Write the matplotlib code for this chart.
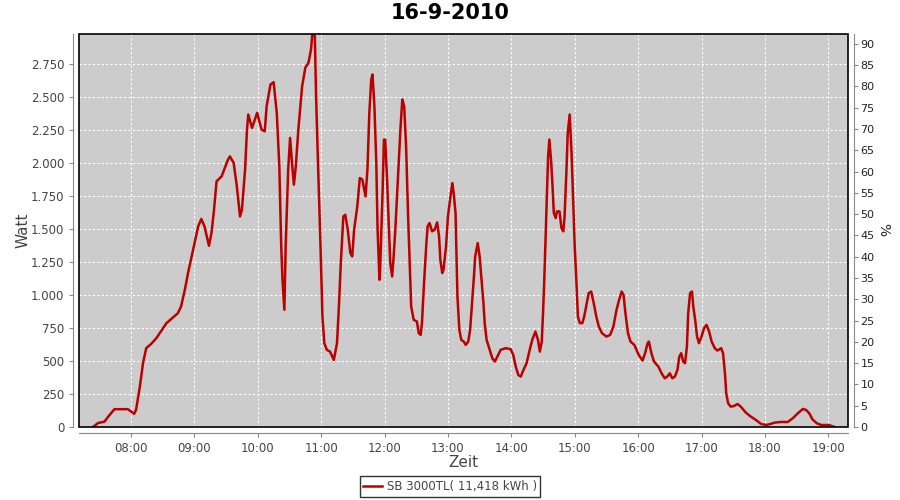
import matplotlib
matplotlib.use("Agg")
import matplotlib.pyplot as plt
from matplotlib.patches import Rectangle
from matplotlib.ticker import FuncFormatter

# Zeit (Stunden, dezimal) und Leistung (W)
zeit = [7.40, 7.48, 7.58, 7.66, 7.74, 7.85, 7.95, 8.05, 8.08, 8.14, 8.19, 8.24, 8.32, 8.40,
        8.56, 8.74, 8.79, 8.85, 8.90, 8.98, 9.06, 9.11, 9.16, 9.23, 9.27, 9.31, 9.35, 9.43,
        9.53, 9.56, 9.62, 9.67, 9.72, 9.75, 9.80, 9.83, 9.85, 9.91, 9.99, 10.06, 10.11, 10.14,
        10.20, 10.25, 10.30, 10.34, 10.37, 10.39, 10.42, 10.44, 10.48, 10.51, 10.54, 10.57,
        10.60, 10.64, 10.70, 10.75, 10.80, 10.84, 10.86, 10.90, 10.92, 10.95, 10.99, 11.02,
        11.05, 11.09, 11.14, 11.20, 11.25, 11.28, 11.31, 11.35, 11.38, 11.42, 11.46, 11.49,
        11.52, 11.57, 11.61, 11.65, 11.70, 11.73, 11.76, 11.79, 11.81, 11.84, 11.87, 11.89,
        11.92, 11.93, 11.95, 11.97, 11.99, 12.01, 12.04, 12.07, 12.09, 12.12, 12.14, 12.17,
        12.21, 12.25, 12.28, 12.31, 12.34, 12.37, 12.40, 12.42, 12.46, 12.51, 12.54, 12.57,
        12.59, 12.62, 12.66, 12.68, 12.71, 12.75, 12.79, 12.83, 12.86, 12.88, 12.91, 12.93,
        12.97, 13.00, 13.04, 13.07, 13.09, 13.12, 13.13, 13.15, 13.18, 13.21, 13.25, 13.28,
        13.32, 13.35, 13.38, 13.41, 13.43, 13.47, 13.50, 13.53, 13.56, 13.58, 13.61, 13.66,
        13.70, 13.74, 13.78, 13.83, 13.91, 13.99, 14.03, 14.07, 14.11, 14.15, 14.18, 14.24,
        14.29, 14.33, 14.38, 14.42, 14.45, 14.48, 14.50, 14.52, 14.54, 14.56, 14.58, 14.60,
        14.63, 14.65, 14.67, 14.70, 14.72, 14.76, 14.79, 14.82, 14.84, 14.87, 14.89, 14.92,
        14.95, 14.97, 15.00, 15.03, 15.05, 15.08, 15.12, 15.15, 15.19, 15.22, 15.26, 15.30,
        15.34, 15.38, 15.43, 15.50, 15.56, 15.61, 15.66, 15.70, 15.74, 15.77, 15.80, 15.84,
        15.88, 15.94, 16.01, 16.07, 16.11, 16.15, 16.17, 16.21, 16.25, 16.32, 16.37, 16.42,
        16.46, 16.50, 16.54, 16.58, 16.62, 16.65, 16.68, 16.71, 16.74, 16.77, 16.79, 16.82,
        16.85, 16.87, 16.90, 16.93, 16.96, 17.00, 17.04, 17.08, 17.12, 17.16, 17.21, 17.25,
        17.31, 17.34, 17.37, 17.39, 17.42, 17.46, 17.51, 17.57, 17.62, 17.70, 17.78, 17.86,
        17.94, 18.02, 18.09, 18.15, 18.25, 18.36, 18.44, 18.52, 18.60, 18.65, 18.70, 18.75,
        18.82, 18.89, 18.96, 19.01, 19.05, 19.09]
watt = [0, 30, 40, 90, 135, 135, 135, 100, 130, 305, 485, 597, 630, 673,
        787, 862, 913, 1040, 1166, 1343, 1520, 1576, 1520, 1373, 1470, 1646, 1861, 1899,
        2025, 2050, 2000, 1823, 1595, 1646, 1950, 2253, 2367, 2266, 2380, 2253, 2240, 2430,
        2594, 2612, 2380, 1975, 1368, 1115, 888, 1368, 1950, 2190, 2000, 1836,
        1975, 2253, 2582, 2721, 2759, 2860, 2974, 2961, 2506, 2000, 1368, 837,
        635, 584, 571, 508, 635, 913, 1242, 1595, 1608, 1494, 1318, 1292,
        1494, 1671, 1886, 1874, 1747, 1950, 2380, 2632, 2670, 2430, 2000, 1494,
        1115, 1191, 1494, 1798, 2177, 2177, 1874, 1494, 1242, 1140, 1267, 1494,
        1874, 2253, 2481, 2430, 2126, 1620, 1191, 913, 812, 799, 711, 698,
        787, 1065, 1393, 1520, 1545, 1482, 1494, 1550, 1444, 1267, 1166, 1191,
        1368, 1595, 1747, 1848, 1773, 1621, 1419, 988, 736, 660, 647, 622,
        647, 736, 938, 1140, 1292, 1393, 1292, 1115, 938, 787, 660, 584,
        521, 496, 533, 584, 597, 589, 546, 457, 394, 382, 420, 483,
        584, 660, 723, 660, 571, 647, 862, 1115, 1419, 1747, 2050, 2177,
        2000, 1823, 1621, 1583, 1633, 1633, 1507, 1482, 1595, 1950, 2228, 2367,
        2076, 1798, 1368, 1065, 837, 787, 787, 837, 938, 1014, 1026, 938,
        837, 761, 711, 685, 698, 761, 888, 963, 1026, 1001, 862, 711,
        647, 622, 546, 503, 559, 635, 647, 559, 496, 457, 407, 369,
        382, 407, 369, 382, 432, 533, 559, 496, 483, 609, 862, 1014,
        1026, 913, 812, 685, 635, 685, 749, 774, 723, 647, 597, 579,
        597, 559, 407, 255, 180, 154, 159, 174, 154, 109, 78, 53,
        23, 15, 23, 33, 38, 38, 66, 104, 137, 129, 104, 58,
        28, 15, 15, 15, 8, 2]

x_ticks = list(range(8, 20))
x_labels = [f"{h:02d}:00" for h in x_ticks]
watt_ticks = list(range(0, 2751, 250))
prozent_ticks = list(range(0, 91, 5))

titel = "16-9-2010"
legende = "SB 3000TL( 11,418 kWh )"

grau = "#444444"
fig = plt.figure(figsize=(9, 5), dpi=100)
ax = fig.add_axes([79 / 900, 73 / 500, 769 / 900, 393 / 500])
ax.set_facecolor("#cccccc")

linie, = ax.plot(zeit, watt, color="#bb0000", linewidth=1.8, label=legende)

ax.set_xlim(7.18, 19.311)
ax.set_ylim(0, 2977)
ax.set_xticks(x_ticks)
ax.set_xticklabels(x_labels)
ax.set_yticks(watt_ticks)
ax.yaxis.set_major_formatter(FuncFormatter(lambda v, p: f"{int(v):,}".replace(",", ".")))
ax.grid(True, color="white", linestyle=(0, (2, 2)), linewidth=0.8)
ax.set_axisbelow(True)

for s in ["top", "right"]:
    ax.spines[s].set_visible(False)
for s in ["left", "bottom"]:
    ax.spines[s].set_position(("outward", 4))
    ax.spines[s].set_color("#888888")
ax.tick_params(colors="#888888", labelcolor=grau, labelsize=8.5, length=3)

ax2 = ax.twinx()
ax2.set_ylim(0, 92.3)
ax2.set_yticks(prozent_ticks)
for s in ["top", "left", "bottom"]:
    ax2.spines[s].set_visible(False)
ax2.spines["right"].set_position(("outward", 4))
ax2.spines["right"].set_color("#888888")
ax2.tick_params(colors="#888888", labelcolor="#222222", labelsize=8, length=3, pad=2)

ax.add_patch(Rectangle((0, 0), 1, 1, transform=ax.transAxes, fill=False,
                       edgecolor="black", linewidth=1.2, clip_on=False, zorder=5))

ax.set_ylabel("Watt", fontsize=11, color=grau, labelpad=0)
ax.set_xlabel("Zeit", fontsize=11, color=grau, labelpad=0)
fig.text(883 / 900, 1 - 230 / 500, "%", fontsize=10, color="#222222",
         rotation=270, ha="center", va="center")

fig.text(0.5, 0.974, titel, ha="center", va="center", fontsize=15, fontweight="bold")

fig.legend(handles=[linie], loc="center", bbox_to_anchor=(0.5, 0.027), fontsize=8.5,
           frameon=True, fancybox=False, edgecolor="black", handlelength=1.6,
           borderpad=0.3, handletextpad=0.4, labelcolor=grau)

fig.savefig("out.png", dpi=100)
